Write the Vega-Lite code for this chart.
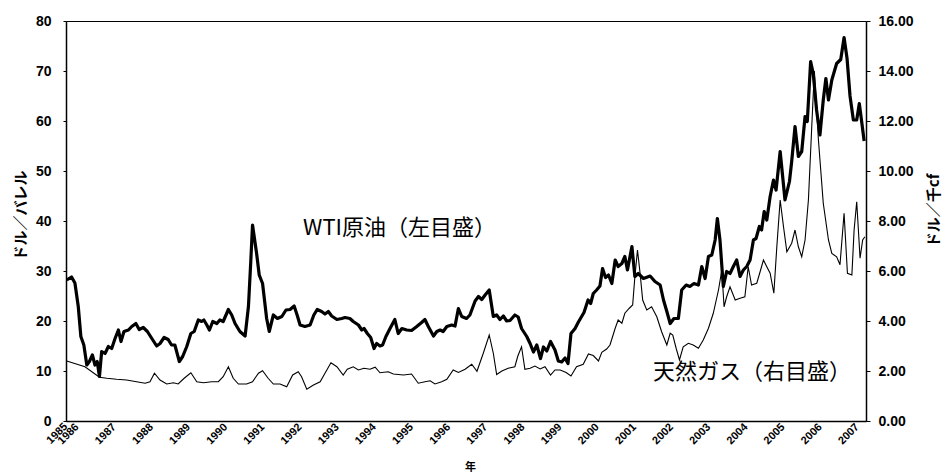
{
  "$schema": "https://vega.github.io/schema/vega-lite/v6.json",
  "autosize": "none",
  "width": 800,
  "height": 400,
  "padding": {"left": 66, "top": 21, "right": 81, "bottom": 54},
  "background": "white",
  "config": {
    "view": {"stroke": "black", "strokeWidth": 1},
    "axis": {"grid": false, "domainColor": "black", "tickColor": "black", "labelColor": "black", "titleColor": "black", "labelFont": "Liberation Sans", "titleFont": "Noto Sans CJK JP"}
  },
  "datasets": {
    "wti": [
      {"t":1985.73,"v":28.2},{"t":1985.86,"v":28.8},{"t":1985.95,"v":27.6},{"t":1986.04,"v":22.9},{"t":1986.11,"v":16.9},{"t":1986.19,"v":15.2},{"t":1986.27,"v":11.2},{"t":1986.34,"v":11.9},{"t":1986.42,"v":13.2},{"t":1986.49,"v":11.2},{"t":1986.55,"v":11.9},{"t":1986.61,"v":8.9},{"t":1986.67,"v":13.9},{"t":1986.76,"v":13.5},{"t":1986.85,"v":14.9},{"t":1986.94,"v":14.5},{"t":1987.03,"v":16.5},{"t":1987.12,"v":18.2},{"t":1987.19,"v":15.9},{"t":1987.27,"v":17.9},{"t":1987.39,"v":18.2},{"t":1987.48,"v":18.9},{"t":1987.59,"v":19.5},{"t":1987.68,"v":18.3},{"t":1987.79,"v":18.7},{"t":1987.90,"v":17.9},{"t":1988.02,"v":16.5},{"t":1988.15,"v":15.0},{"t":1988.24,"v":15.5},{"t":1988.35,"v":16.7},{"t":1988.46,"v":16.3},{"t":1988.55,"v":15.2},{"t":1988.64,"v":15.2},{"t":1988.76,"v":11.9},{"t":1988.85,"v":12.9},{"t":1988.96,"v":14.9},{"t":1989.07,"v":17.5},{"t":1989.16,"v":17.9},{"t":1989.27,"v":20.2},{"t":1989.36,"v":19.9},{"t":1989.42,"v":20.2},{"t":1989.50,"v":19.2},{"t":1989.57,"v":18.2},{"t":1989.66,"v":19.9},{"t":1989.77,"v":19.5},{"t":1989.85,"v":20.2},{"t":1989.94,"v":19.9},{"t":1990.08,"v":22.3},{"t":1990.17,"v":21.2},{"t":1990.26,"v":19.5},{"t":1990.39,"v":17.9},{"t":1990.53,"v":17.0},{"t":1990.62,"v":22.9},{"t":1990.68,"v":31.5},{"t":1990.73,"v":39.2},{"t":1990.84,"v":33.5},{"t":1990.91,"v":29.2},{"t":1991.00,"v":27.5},{"t":1991.11,"v":20.5},{"t":1991.18,"v":17.9},{"t":1991.29,"v":21.2},{"t":1991.40,"v":20.5},{"t":1991.52,"v":20.9},{"t":1991.63,"v":22.2},{"t":1991.74,"v":22.3},{"t":1991.85,"v":23.0},{"t":1991.93,"v":21.2},{"t":1992.01,"v":19.2},{"t":1992.14,"v":18.9},{"t":1992.28,"v":19.2},{"t":1992.38,"v":21.2},{"t":1992.47,"v":22.3},{"t":1992.59,"v":21.9},{"t":1992.68,"v":21.4},{"t":1992.77,"v":21.9},{"t":1992.86,"v":21.0},{"t":1993.00,"v":20.3},{"t":1993.13,"v":20.5},{"t":1993.22,"v":20.7},{"t":1993.35,"v":20.5},{"t":1993.44,"v":19.9},{"t":1993.58,"v":19.2},{"t":1993.67,"v":18.2},{"t":1993.73,"v":18.5},{"t":1993.82,"v":17.5},{"t":1993.91,"v":16.7},{"t":1994.00,"v":14.5},{"t":1994.07,"v":15.5},{"t":1994.16,"v":15.0},{"t":1994.23,"v":15.2},{"t":1994.32,"v":16.9},{"t":1994.43,"v":18.5},{"t":1994.56,"v":20.3},{"t":1994.65,"v":17.5},{"t":1994.75,"v":18.5},{"t":1994.88,"v":18.2},{"t":1995.01,"v":18.1},{"t":1995.15,"v":18.9},{"t":1995.28,"v":19.7},{"t":1995.37,"v":20.3},{"t":1995.46,"v":18.9},{"t":1995.60,"v":17.0},{"t":1995.69,"v":17.9},{"t":1995.78,"v":18.2},{"t":1995.86,"v":17.9},{"t":1995.96,"v":18.9},{"t":1996.09,"v":19.2},{"t":1996.18,"v":19.0},{"t":1996.27,"v":22.5},{"t":1996.36,"v":20.9},{"t":1996.49,"v":20.5},{"t":1996.58,"v":21.2},{"t":1996.72,"v":24.0},{"t":1996.81,"v":24.9},{"t":1996.90,"v":24.3},{"t":1996.99,"v":25.2},{"t":1997.10,"v":26.2},{"t":1997.21,"v":20.9},{"t":1997.30,"v":21.2},{"t":1997.39,"v":20.3},{"t":1997.48,"v":21.0},{"t":1997.57,"v":20.0},{"t":1997.66,"v":20.1},{"t":1997.79,"v":21.2},{"t":1997.88,"v":20.8},{"t":1997.97,"v":18.5},{"t":1998.11,"v":16.9},{"t":1998.20,"v":15.5},{"t":1998.29,"v":13.8},{"t":1998.38,"v":15.2},{"t":1998.48,"v":12.5},{"t":1998.56,"v":14.8},{"t":1998.65,"v":14.0},{"t":1998.75,"v":15.9},{"t":1998.87,"v":14.2},{"t":1998.96,"v":12.0},{"t":1999.05,"v":11.8},{"t":1999.14,"v":12.6},{"t":1999.22,"v":11.5},{"t":1999.30,"v":17.5},{"t":1999.41,"v":18.5},{"t":1999.50,"v":19.8},{"t":1999.65,"v":21.7},{"t":1999.76,"v":24.2},{"t":1999.83,"v":23.5},{"t":1999.90,"v":25.5},{"t":1999.99,"v":26.2},{"t":2000.08,"v":27.0},{"t":2000.15,"v":30.5},{"t":2000.23,"v":28.7},{"t":2000.31,"v":29.2},{"t":2000.40,"v":27.5},{"t":2000.49,"v":32.2},{"t":2000.57,"v":30.9},{"t":2000.67,"v":31.5},{"t":2000.75,"v":32.9},{"t":2000.82,"v":30.2},{"t":2000.94,"v":34.9},{"t":2001.02,"v":28.9},{"t":2001.11,"v":29.5},{"t":2001.25,"v":28.5},{"t":2001.43,"v":29.0},{"t":2001.56,"v":27.9},{"t":2001.70,"v":27.2},{"t":2001.79,"v":24.2},{"t":2001.88,"v":21.9},{"t":2001.97,"v":19.5},{"t":2002.07,"v":20.5},{"t":2002.19,"v":20.5},{"t":2002.28,"v":26.2},{"t":2002.40,"v":27.2},{"t":2002.50,"v":26.9},{"t":2002.61,"v":27.5},{"t":2002.73,"v":27.2},{"t":2002.82,"v":30.9},{"t":2002.91,"v":28.5},{"t":2003.00,"v":32.9},{"t":2003.09,"v":33.2},{"t":2003.18,"v":36.2},{"t":2003.24,"v":40.5},{"t":2003.31,"v":36.2},{"t":2003.40,"v":26.9},{"t":2003.49,"v":29.9},{"t":2003.58,"v":29.5},{"t":2003.67,"v":30.9},{"t":2003.76,"v":32.2},{"t":2003.85,"v":28.9},{"t":2003.94,"v":30.2},{"t":2004.03,"v":30.9},{"t":2004.12,"v":32.2},{"t":2004.21,"v":36.2},{"t":2004.28,"v":36.5},{"t":2004.37,"v":38.9},{"t":2004.43,"v":38.2},{"t":2004.50,"v":41.9},{"t":2004.57,"v":40.2},{"t":2004.66,"v":44.9},{"t":2004.75,"v":48.2},{"t":2004.82,"v":46.2},{"t":2004.93,"v":53.9},{"t":2005.06,"v":44.2},{"t":2005.18,"v":47.9},{"t":2005.24,"v":51.9},{"t":2005.33,"v":58.9},{"t":2005.42,"v":52.9},{"t":2005.51,"v":53.9},{"t":2005.60,"v":60.9},{"t":2005.66,"v":59.9},{"t":2005.75,"v":71.9},{"t":2005.82,"v":69.5},{"t":2005.91,"v":62.2},{"t":2006.00,"v":57.2},{"t":2006.09,"v":64.2},{"t":2006.16,"v":68.5},{"t":2006.23,"v":64.2},{"t":2006.32,"v":68.2},{"t":2006.45,"v":71.5},{"t":2006.56,"v":72.3},{"t":2006.65,"v":76.7},{"t":2006.73,"v":72.5},{"t":2006.81,"v":65.0},{"t":2006.90,"v":60.2},{"t":2006.99,"v":60.2},{"t":2007.06,"v":63.5},{"t":2007.13,"v":59.5},{"t":2007.19,"v":56.0}
    ],
    "gas": [
      {"t":1985.73,"v":2.40},{"t":1986.22,"v":2.17},{"t":1986.61,"v":1.75},{"t":1986.81,"v":1.71},{"t":1987.07,"v":1.67},{"t":1987.34,"v":1.64},{"t":1987.61,"v":1.57},{"t":1987.84,"v":1.51},{"t":1987.97,"v":1.57},{"t":1988.09,"v":1.91},{"t":1988.24,"v":1.64},{"t":1988.42,"v":1.48},{"t":1988.60,"v":1.53},{"t":1988.73,"v":1.48},{"t":1988.89,"v":1.71},{"t":1989.07,"v":1.93},{"t":1989.23,"v":1.57},{"t":1989.41,"v":1.53},{"t":1989.63,"v":1.57},{"t":1989.81,"v":1.57},{"t":1989.94,"v":1.77},{"t":1990.08,"v":2.17},{"t":1990.21,"v":1.71},{"t":1990.35,"v":1.48},{"t":1990.57,"v":1.48},{"t":1990.73,"v":1.57},{"t":1990.89,"v":1.91},{"t":1991.00,"v":2.01},{"t":1991.15,"v":1.71},{"t":1991.29,"v":1.48},{"t":1991.47,"v":1.48},{"t":1991.65,"v":1.37},{"t":1991.81,"v":1.84},{"t":1991.96,"v":1.97},{"t":1992.05,"v":1.77},{"t":1992.19,"v":1.27},{"t":1992.37,"v":1.44},{"t":1992.55,"v":1.57},{"t":1992.68,"v":1.91},{"t":1992.84,"v":2.33},{"t":1993.00,"v":2.17},{"t":1993.17,"v":1.84},{"t":1993.28,"v":2.07},{"t":1993.44,"v":2.17},{"t":1993.58,"v":2.04},{"t":1993.73,"v":2.11},{"t":1993.89,"v":2.07},{"t":1994.03,"v":2.15},{"t":1994.16,"v":1.93},{"t":1994.38,"v":1.97},{"t":1994.52,"v":1.88},{"t":1994.79,"v":1.84},{"t":1995.01,"v":1.88},{"t":1995.19,"v":1.51},{"t":1995.37,"v":1.57},{"t":1995.51,"v":1.61},{"t":1995.64,"v":1.48},{"t":1995.82,"v":1.57},{"t":1995.96,"v":1.67},{"t":1996.13,"v":2.04},{"t":1996.27,"v":1.94},{"t":1996.45,"v":2.07},{"t":1996.63,"v":2.27},{"t":1996.77,"v":1.99},{"t":1996.94,"v":2.71},{"t":1997.10,"v":3.44},{"t":1997.21,"v":2.71},{"t":1997.30,"v":1.86},{"t":1997.44,"v":2.00},{"t":1997.61,"v":2.11},{"t":1997.79,"v":2.17},{"t":1997.87,"v":2.60},{"t":1997.97,"v":2.97},{"t":1998.06,"v":2.07},{"t":1998.20,"v":2.11},{"t":1998.33,"v":2.20},{"t":1998.47,"v":2.08},{"t":1998.60,"v":2.17},{"t":1998.75,"v":1.84},{"t":1998.87,"v":2.04},{"t":1999.01,"v":2.04},{"t":1999.17,"v":1.94},{"t":1999.30,"v":1.80},{"t":1999.45,"v":2.17},{"t":1999.63,"v":2.27},{"t":1999.77,"v":2.68},{"t":1999.90,"v":2.62},{"t":2000.04,"v":2.40},{"t":2000.13,"v":2.75},{"t":2000.26,"v":2.88},{"t":2000.35,"v":3.04},{"t":2000.49,"v":3.71},{"t":2000.57,"v":4.04},{"t":2000.67,"v":3.91},{"t":2000.75,"v":4.31},{"t":2000.87,"v":4.51},{"t":2000.96,"v":4.64},{"t":2001.02,"v":5.77},{"t":2001.09,"v":6.84},{"t":2001.16,"v":5.91},{"t":2001.23,"v":4.84},{"t":2001.34,"v":4.44},{"t":2001.47,"v":4.57},{"t":2001.61,"v":4.17},{"t":2001.74,"v":3.57},{"t":2001.88,"v":3.04},{"t":2001.97,"v":3.51},{"t":2002.04,"v":3.44},{"t":2002.13,"v":2.91},{"t":2002.22,"v":2.44},{"t":2002.32,"v":2.97},{"t":2002.46,"v":3.11},{"t":2002.59,"v":3.04},{"t":2002.73,"v":2.91},{"t":2002.86,"v":3.24},{"t":2003.00,"v":3.71},{"t":2003.13,"v":4.31},{"t":2003.27,"v":5.24},{"t":2003.36,"v":6.04},{"t":2003.42,"v":4.57},{"t":2003.49,"v":4.97},{"t":2003.58,"v":5.37},{"t":2003.72,"v":4.84},{"t":2003.85,"v":4.91},{"t":2003.98,"v":4.97},{"t":2004.07,"v":6.17},{"t":2004.16,"v":5.44},{"t":2004.30,"v":5.51},{"t":2004.39,"v":5.97},{"t":2004.48,"v":6.44},{"t":2004.57,"v":6.17},{"t":2004.66,"v":5.91},{"t":2004.76,"v":5.11},{"t":2004.84,"v":6.97},{"t":2004.93,"v":8.84},{"t":2005.02,"v":7.77},{"t":2005.11,"v":6.77},{"t":2005.24,"v":7.11},{"t":2005.33,"v":7.64},{"t":2005.42,"v":6.97},{"t":2005.51,"v":6.57},{"t":2005.60,"v":7.24},{"t":2005.69,"v":8.84},{"t":2005.78,"v":11.77},{"t":2005.85,"v":14.0},{"t":2005.96,"v":11.24},{"t":2006.09,"v":8.71},{"t":2006.23,"v":7.24},{"t":2006.32,"v":6.70},{"t":2006.45,"v":6.57},{"t":2006.54,"v":6.25},{"t":2006.65,"v":8.31},{"t":2006.74,"v":5.91},{"t":2006.86,"v":5.84},{"t":2006.92,"v":7.64},{"t":2006.99,"v":8.77},{"t":2007.03,"v":7.77},{"t":2007.08,"v":6.51},{"t":2007.15,"v":7.24},{"t":2007.21,"v":7.37}
    ],
    "labels": [
      {"t":1992.09,"v":38.6,"label":"WTI原油（左目盛）"},
      {"t":2001.51,"v":9.9,"label":"天然ガス（右目盛）"}
    ],
    "firstYear": [
      {"t":1985.71,"v":-0.8,"label":"1985"}
    ]
  },
  "encoding": {
    "x": {"field": "t", "type": "quantitative",
      "scale": {"domain": [1985.71, 2007.24], "nice": false, "zero": false},
      "axis": {"values": [1986,1987,1988,1989,1990,1991,1992,1993,1994,1995,1996,1997,1998,1999,2000,2001,2002,2003,2004,2005,2006,2007],
        "format": "d", "labelAngle": -45, "labelAlign": "right", "labelBaseline": "middle", "labelFontSize": 11, "labelFontWeight": "bold", "labelPadding": 4,
        "ticks": false, "labelOverlap": false, "labelFlush": false, "domainWidth": 1.5,
        "title": "年", "titleFontSize": 11, "titleFontWeight": "bold", "titleX": 404, "titleY": 46, "titleBaseline": "middle"}}
  },
  "layer": [
    {
      "layer": [
        {
          "data": {"name": "wti"},
          "mark": {"type": "line", "color": "black", "strokeWidth": 3.2, "strokeJoin": "round", "clip": true},
          "encoding": {
            "y": {"field": "v", "type": "quantitative",
              "scale": {"domain": [0, 80], "nice": false},
              "axis": {"values": [0,10,20,30,40,50,60,70,80], "labelFontSize": 14, "labelFontWeight": "bold", "labelPadding": 12, "tickSize": 3, "domainWidth": 1.5,
                "title": "ドル／バレル", "titleFontSize": 15, "titleFontWeight": "bold", "titleAngle": -90, "titleX": -46, "titleY": 194, "titleAlign": "center", "titleBaseline": "middle"}}
          }
        },
        {
          "data": {"name": "labels"},
          "mark": {"type": "text", "align": "left", "baseline": "middle", "font": "Noto Sans CJK JP", "fontSize": 22, "color": "black"},
          "encoding": {
            "y": {"field": "v", "type": "quantitative"},
            "text": {"field": "label"}
          }
        },
        {
          "data": {"name": "firstYear"},
          "mark": {"type": "text", "align": "right", "baseline": "middle", "angle": 315, "font": "Liberation Sans", "fontSize": 11, "fontWeight": "bold", "color": "black"},
          "encoding": {
            "y": {"field": "v", "type": "quantitative"},
            "text": {"field": "label"}
          }
        }
      ]
    },
    {
      "data": {"name": "gas"},
      "mark": {"type": "line", "color": "black", "strokeWidth": 1.1, "clip": true},
      "encoding": {
        "y": {"field": "v", "type": "quantitative",
          "scale": {"domain": [0, 16], "nice": false},
          "axis": {"orient": "right", "values": [0,2,4,6,8,10,12,14,16], "format": ".2f", "labelFontSize": 14, "labelFontWeight": "bold", "labelPadding": 8, "tickSize": 4, "domainWidth": 1.5,
            "title": "ドル／千cf", "titleFontSize": 15, "titleFontWeight": "bold", "titleAngle": -90, "titleX": 67, "titleY": 189, "titleAlign": "center", "titleBaseline": "middle"}}
      }
    }
  ],
  "resolve": {"scale": {"y": "independent"}}
}
